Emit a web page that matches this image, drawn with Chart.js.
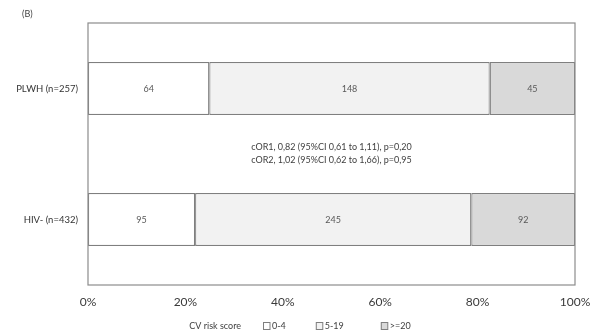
<!DOCTYPE html>
<html>
<head>
<meta charset="utf-8">
<style>
  html, body { margin: 0; padding: 0; background: #fff; }
  #wrap { width: 594px; height: 333px; }
</style>
<script src="https://cdn.jsdelivr.net/npm/chart.js@4/dist/chart.umd.min.js"></script>
</head>
<body>
<div id="wrap"><canvas id="chart" width="594" height="333"></canvas></div>
<script>
const categories = ["PLWH (n=257)", "HIV- (n=432)"];
const riskGroups = ["0-4", "5-19", ">=20"];
const counts0to4 = [64, 95];
const counts5to19 = [148, 245];
const counts20plus = [45, 92];
const xTickValues = [0, 20, 40, 60, 80, 100];
const panelLabel = "(B)";
const legendTitle = "CV risk score";
const oddsLines = [
  "cOR1, 0,82 (95%CI 0,61 to 1,11), p=0,20",
  "cOR2, 1,02 (95%CI 0,62 to 1,66), p=0,95",
];

const FONT = "Lato, 'Open Sans', sans-serif";
const segColors = ["#ffffff", "#f2f2f2", "#d9d9d9"];
const edgeColor = "#7f7f7f";

const allCounts = [counts0to4, counts5to19, counts20plus];
const totals = categories.map((_, i) =>
  allCounts.reduce((sum, arr) => sum + arr[i], 0)
);

function toPercent(arr) {
  return arr.map((v, i) => (v / totals[i]) * 100);
}

const datasets = riskGroups.map((name, k) => ({
  label: name,
  data: toPercent(allCounts[k]),
  counts: allCounts[k],
  backgroundColor: segColors[k],
  borderColor: edgeColor,
  borderWidth: 1.2,
  borderSkipped: false,
  barPercentage: 0.405,
  categoryPercentage: 1,
}));

// legend is drawn by hand: title text followed by small boxes, uneven gaps like the source
function drawLegend(chart) {
  const ctx = chart.ctx;
  const y = 326;
  const gaps = [22, 30, 37];
  ctx.font = "9px " + FONT;
  ctx.textBaseline = "middle";
  ctx.textAlign = "left";
  let width = ctx.measureText(legendTitle).width;
  chart.data.datasets.forEach((ds, i) => {
    width += gaps[i] + 9 + ctx.measureText(ds.label).width;
  });
  let x = 300 - width / 2;
  ctx.fillStyle = "#404040";
  ctx.fillText(legendTitle, x, y);
  x += ctx.measureText(legendTitle).width;
  chart.data.datasets.forEach((ds, i) => {
    x += gaps[i];
    ctx.fillStyle = ds.backgroundColor;
    ctx.fillRect(x, y - 3.5, 7, 7);
    ctx.strokeStyle = edgeColor;
    ctx.lineWidth = 1;
    ctx.strokeRect(x + 0.5, y - 3.5, 6.5, 7);
    x += 9;
    ctx.fillStyle = "#404040";
    ctx.fillText(ds.label, x, y);
    x += ctx.measureText(ds.label).width;
  });
}

const extrasPlugin = {
  id: "extras",
  afterDatasetsDraw(chart) {
    const { ctx, chartArea, scales } = chart;
    ctx.save();
    // plot frame
    ctx.strokeStyle = "#8c8c8c";
    ctx.lineWidth = 1.2;
    ctx.strokeRect(chartArea.left, chartArea.top,
      chartArea.right - chartArea.left, chartArea.bottom - chartArea.top);

    // count labels inside segments
    ctx.fillStyle = "#595959";
    ctx.font = "9px " + FONT;
    ctx.textAlign = "center";
    ctx.textBaseline = "middle";
    chart.data.datasets.forEach((ds, di) => {
      const meta = chart.getDatasetMeta(di);
      meta.data.forEach((el, i) => {
        ctx.fillText(String(ds.counts[i]), (el.x + el.base) / 2, el.y + 1);
      });
    });

    // odds ratio text between the bars
    const midY = scales.y.getPixelForValue(0.5);
    const midX = (chartArea.left + chartArea.right) / 2;
    ctx.fillStyle = "#404040";
    ctx.font = "9px " + FONT;
    ctx.fillText(oddsLines[0], midX, midY - 7);
    ctx.fillText(oddsLines[1], midX, midY + 6);

    // panel label
    ctx.textAlign = "left";
    ctx.fillStyle = "#404040";
    ctx.font = "9px " + FONT;
    ctx.fillText(panelLabel, 22, 14);

    drawLegend(chart);
    ctx.restore();
  },
};

new Chart(document.getElementById("chart"), {
  type: "bar",
  data: { labels: categories, datasets },
  options: {
    indexAxis: "y",
    responsive: false,
    animation: false,
    layout: { padding: { top: 23, right: 19, left: 0, bottom: 22 } },
    scales: {
      x: {
        stacked: true,
        min: 0,
        max: 100,
        grid: { display: false, drawTicks: false },
        border: { display: false },
        afterBuildTicks(scale) {
          scale.ticks = xTickValues.map((v) => ({ value: v }));
        },
        afterFit(scale) {
          scale.height = 26;
          scale.paddingRight = 0;
        },
        ticks: {
          callback: (v) => v + "%",
          color: "#3a3a3a",
          padding: 10,
          maxRotation: 0,
          font: { family: FONT, size: 12 },
        },
      },
      y: {
        stacked: true,
        offset: true,
        grid: { display: false, drawTicks: false },
        border: { display: false },
        afterFit(scale) { scale.width = 88; },
        ticks: {
          color: "#333333",
          padding: 10,
          font: { family: FONT, size: 9.5 },
        },
      },
    },
    plugins: {
      tooltip: { enabled: false },
      legend: { display: false },
    },
  },
  plugins: [extrasPlugin],
});
</script>
</body>
</html>
